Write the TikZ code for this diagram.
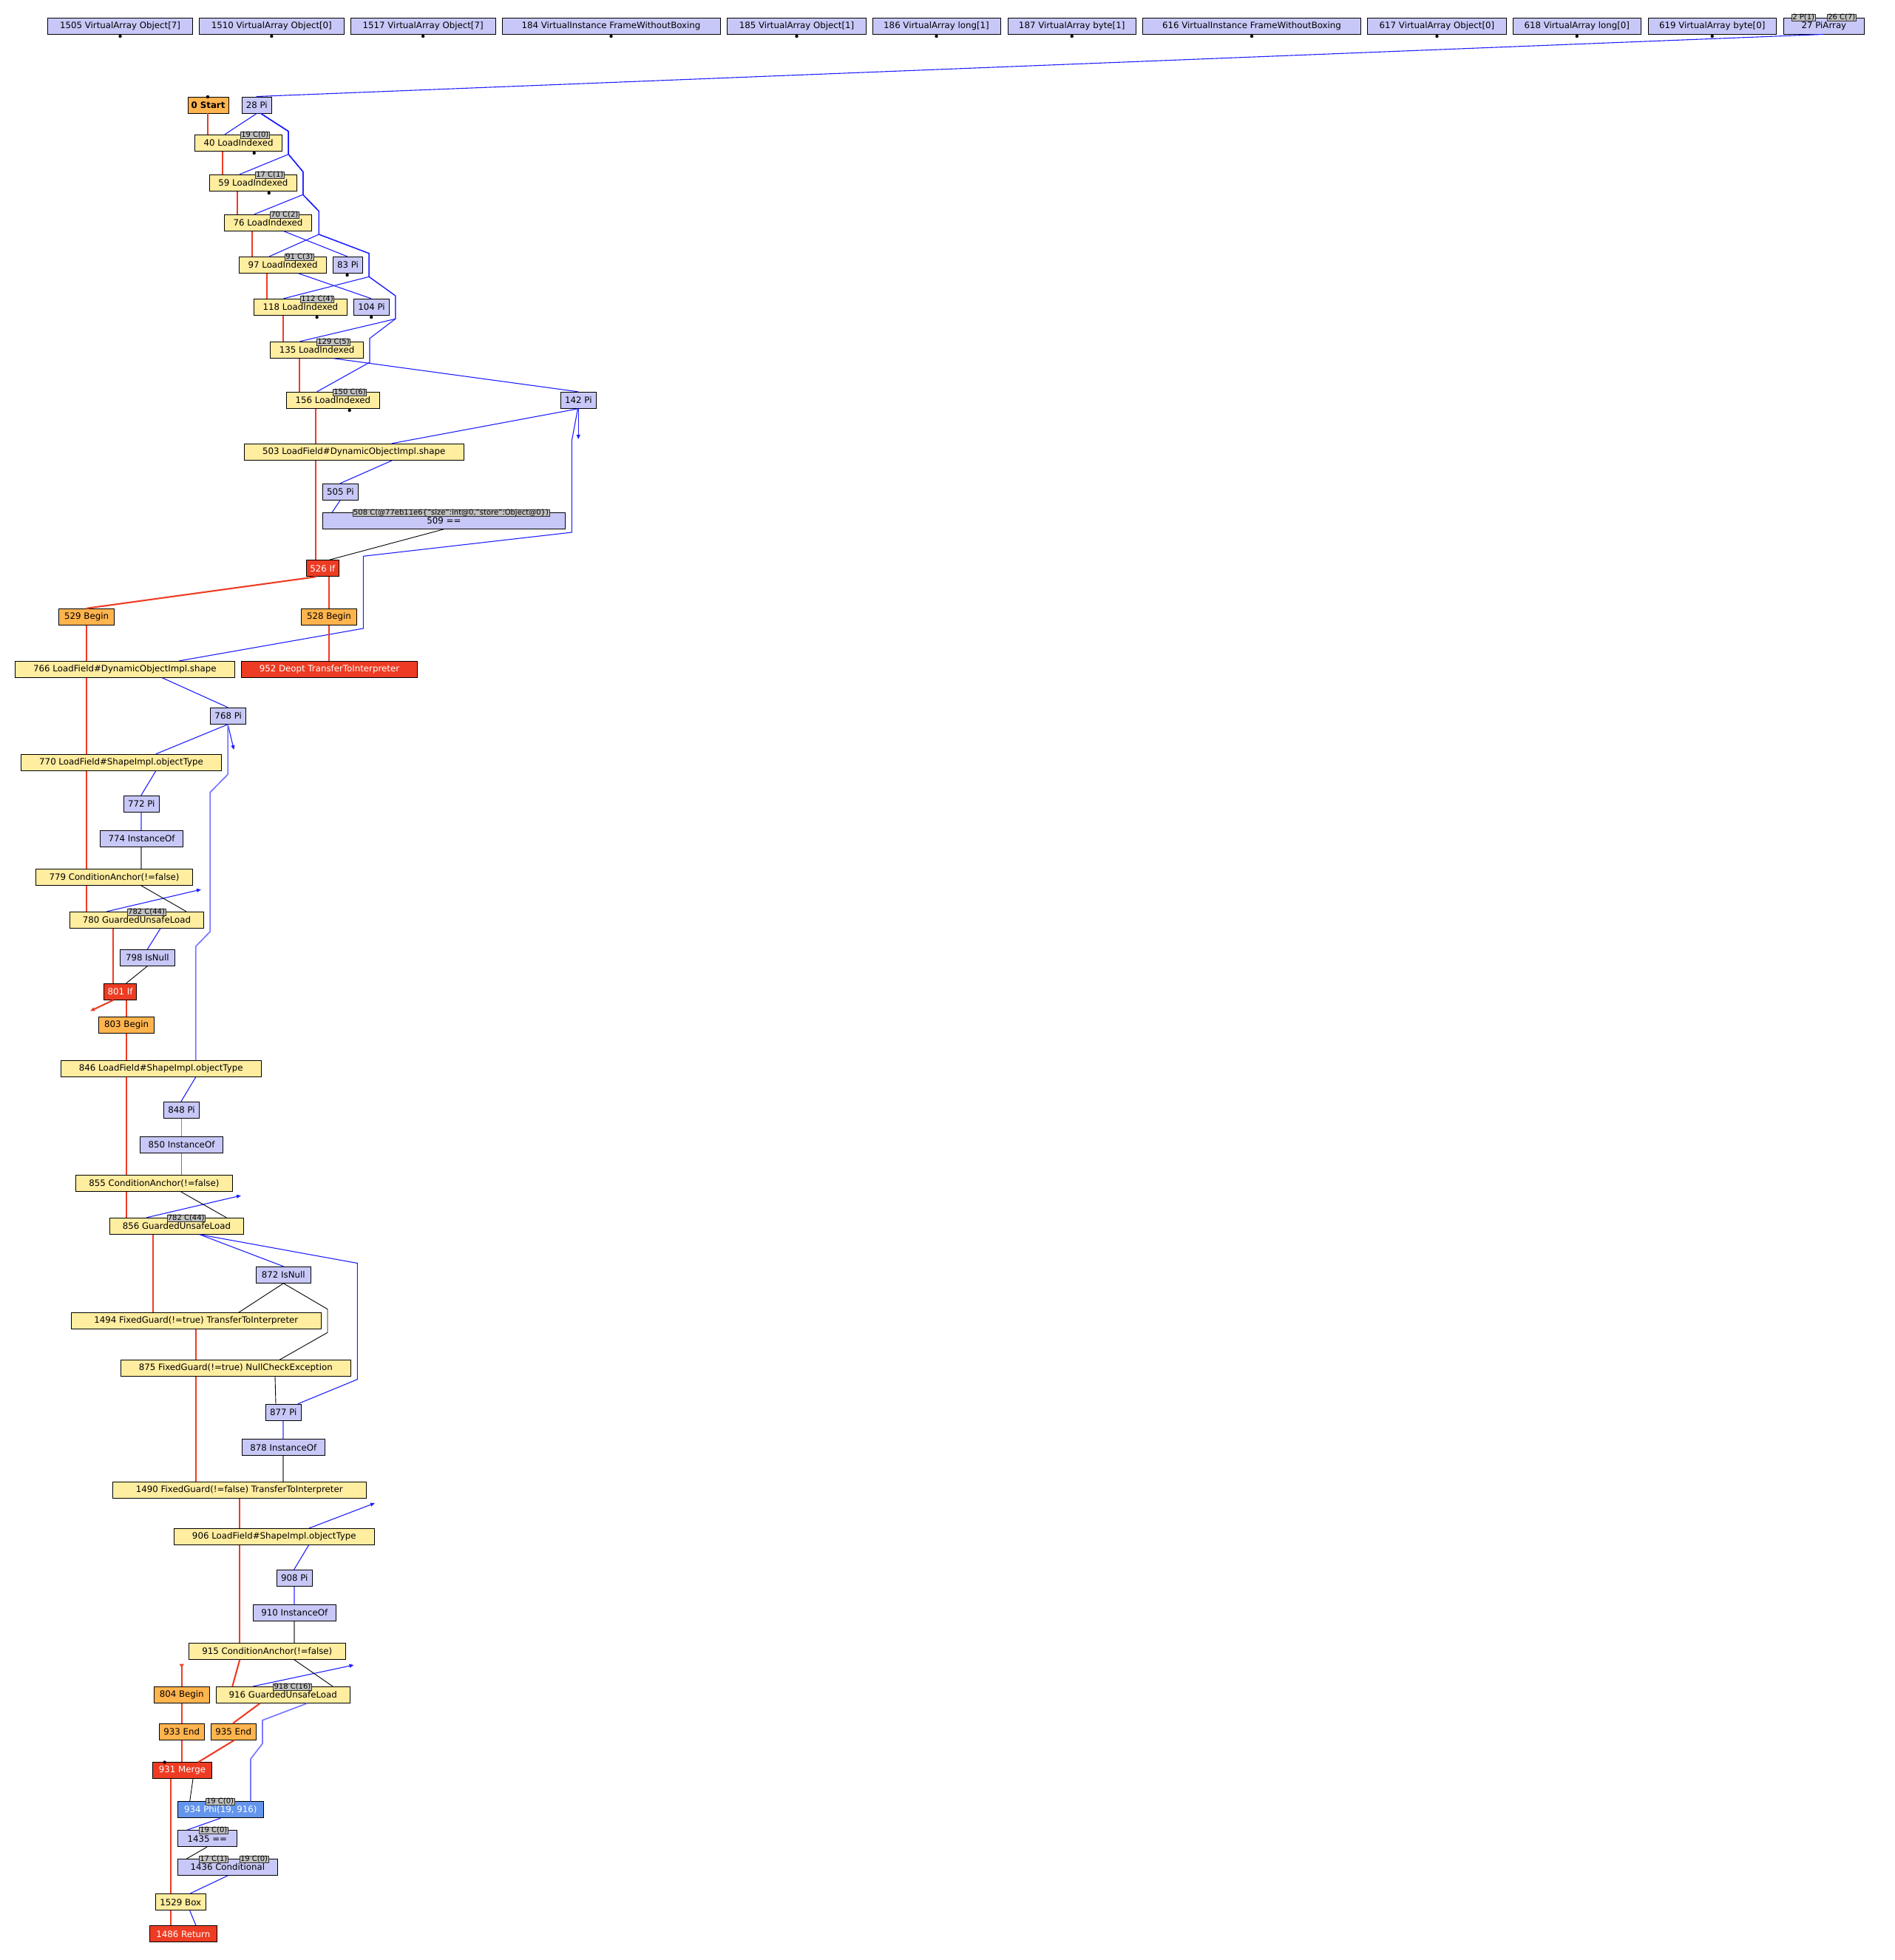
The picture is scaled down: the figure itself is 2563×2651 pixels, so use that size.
\documentclass[tikz,border=0pt]{standalone}
\usepackage{fontspec}
\setmainfont{DejaVu Sans}
\usetikzlibrary{arrows.meta}
\definecolor{yfill}{RGB}{255,237,160}
\definecolor{lfill}{RGB}{200,200,248}
\definecolor{ofill}{RGB}{255,180,77}
\definecolor{rfill}{RGB}{237,60,35}
\definecolor{pfill}{RGB}{100,149,237}
\definecolor{dblue}{RGB}{30,30,255}
\definecolor{lblue}{RGB}{120,120,255}
\definecolor{cred}{RGB}{237,60,35}
\definecolor{cgray}{RGB}{120,120,120}
\definecolor{lgray}{RGB}{192,192,192}
\newcommand\gnode[7]{\node[#6, minimum width={#4-#2}, minimum height={#5-#3}] (#1) at ({(#2+#4)/2},{(#3+#5)/2}) {#7};}
\tikzset{
 gbox/.style={draw=black, line width=0.9pt, inner sep=0pt, font=\fontsize{11.8}{13}\selectfont, text=black},
 ybox/.style={gbox, fill=yfill},
 lbox/.style={gbox, fill=lfill},
 obox/.style={gbox, fill=ofill},
 rbox/.style={gbox, fill=rfill, text=white},
 pbox/.style={gbox, fill=pfill, text=white},
 lbl/.style={draw=black!80, line width=0.6pt, fill=lgray, anchor=west, inner xsep=1pt, inner ysep=0pt, text height=7pt, text depth=1.5pt, font=\fontsize{10}{10}\selectfont, text=black},
 dat/.style={draw=dblue, line width=1.1pt},
 dat2/.style={draw=lblue, line width=1.7pt},
 ctl/.style={draw=cred, line width=2.1pt},
 blk/.style={draw=black, line width=0.9pt},
 gry/.style={draw=cgray, line width=1.7pt},
 tipb/.style={-{Triangle[length=6pt,width=5pt]}},
 tipr/.style={-{Triangle[reversed,length=5pt,width=6pt]}},
 port/.style={fill=black},
}
\begin{document}
\begin{tikzpicture}[x=1pt,y=-1pt]
\useasboundingbox (0,0) rectangle (2563,2651);
% ---- top row ----
\gnode{t1505}{64.7}{24}{260.4}{46}{lbox}{1505 VirtualArray Object[7]}
\gnode{t1510}{269.5}{24}{465.2}{46}{lbox}{1510 VirtualArray Object[0]}
\gnode{t1517}{474.3}{24}{670}{46}{lbox}{1517 VirtualArray Object[7]}
\gnode{t184}{679}{24}{974}{46}{lbox}{184 VirtualInstance FrameWithoutBoxing}
\gnode{t185}{983.4}{24}{1171.6}{46}{lbox}{185 VirtualArray Object[1]}
\gnode{t186}{1180}{24}{1353}{46}{lbox}{186 VirtualArray long[1]}
\gnode{t187}{1363}{24}{1536.4}{46}{lbox}{187 VirtualArray byte[1]}
\gnode{t616}{1545.6}{24}{1840.4}{46}{lbox}{616 VirtualInstance FrameWithoutBoxing}
\gnode{t617}{1849.6}{24}{2037.3}{46}{lbox}{617 VirtualArray Object[0]}
\gnode{t618}{2046.5}{24}{2219}{46}{lbox}{618 VirtualArray long[0]}
\gnode{t619}{2229}{24}{2402.4}{46}{lbox}{619 VirtualArray byte[0]}
\gnode{t27}{2412.4}{24}{2521.3}{46}{lbox}{27 PiArray}
\foreach \x in {162.55,367.35,572.15,826.5,1077.5,1266.5,1449.7,1693,1943.45,2132.75,2315.7}
  \fill[port] (\x,49) circle[radius=2.2pt];
\node[lbl] (lp2) at (2423,24) {2 P(1)};
\node[lbl] (lc26) at (2471,24) {26 C(7)};
% ---- nodes ----
\gnode{n0}{254}{131}{309}{153}{obox}{\bfseries 0 Start}
\gnode{n28}{327.2}{131}{367.4}{153}{lbox}{28 Pi}
\gnode{n40}{263.4}{182.3}{381.7}{204.3}{ybox}{40 LoadIndexed}
\gnode{n59}{283.5}{236.3}{401.3}{258.3}{ybox}{59 LoadIndexed}
\gnode{n76}{303.6}{290.3}{421.4}{312.3}{ybox}{76 LoadIndexed}
\gnode{n97}{323.7}{347.3}{441.5}{369.3}{ybox}{97 LoadIndexed}
\gnode{n83}{450.4}{347.3}{490.6}{369.3}{lbox}{83 Pi}
\gnode{n118}{343.3}{404.3}{469.6}{426.3}{ybox}{118 LoadIndexed}
\gnode{n104}{478.6}{404.3}{526.3}{426.3}{lbox}{104 Pi}
\gnode{n135}{365.6}{462.3}{491.5}{484.3}{ybox}{135 LoadIndexed}
\gnode{n156}{387.5}{530.3}{513.4}{552.3}{ybox}{156 LoadIndexed}
\gnode{n142}{758.5}{530.3}{806.3}{552.3}{lbox}{142 Pi}
\gnode{n503}{330.2}{600.3}{627.2}{622.3}{ybox}{503 LoadField\#DynamicObjectImpl.shape}
\gnode{n505}{436.2}{654.3}{484.5}{676.3}{lbox}{505 Pi}
\gnode{n509}{436.2}{693.3}{764.6}{715.3}{lbox}{509 ==}
\gnode{n526}{414.4}{757.7}{458.4}{779.7}{rbox}{526 If}
\gnode{n529}{79.6}{823.3}{154.6}{845.3}{obox}{529 Begin}
\gnode{n528}{407.6}{823.3}{482.4}{845.3}{obox}{528 Begin}
\gnode{n766}{20.4}{894.3}{317.3}{916.3}{ybox}{766 LoadField\#DynamicObjectImpl.shape}
\gnode{n952}{326.5}{894.3}{564.4}{916.3}{rbox}{952 Deopt TransferToInterpreter}
\gnode{n768}{284.7}{957.3}{332.7}{979.3}{lbox}{768 Pi}
\gnode{n770}{28.6}{1020.3}{299.5}{1042.3}{ybox}{770 LoadField\#ShapeImpl.objectType}
\gnode{n772}{167.3}{1076.3}{215.3}{1098.3}{lbox}{772 Pi}
\gnode{n774}{135.7}{1123.3}{247.4}{1145.3}{lbox}{774 InstanceOf}
\gnode{n779}{48.4}{1175.3}{260.7}{1197.3}{ybox}{779 ConditionAnchor(!=false)}
\gnode{n780}{94.4}{1233.3}{275.5}{1255.3}{ybox}{780 GuardedUnsafeLoad}
\gnode{n798}{162.3}{1284.3}{236.5}{1306.3}{lbox}{798 IsNull}
\gnode{n801}{140.5}{1330.3}{184.5}{1352.3}{rbox}{801 If}
\gnode{n803}{133.6}{1375.3}{208.6}{1397.3}{obox}{803 Begin}
\gnode{n846}{82.3}{1434.3}{353.2}{1456.3}{ybox}{846 LoadField\#ShapeImpl.objectType}
\gnode{n848}{221.6}{1490.3}{269.4}{1512.3}{lbox}{848 Pi}
\gnode{n850}{189.4}{1537.3}{301.6}{1559.3}{lbox}{850 InstanceOf}
\gnode{n855}{102.4}{1589.5}{314.3}{1611.5}{ybox}{855 ConditionAnchor(!=false)}
\gnode{n856}{148.4}{1647.3}{329.4}{1669.3}{ybox}{856 GuardedUnsafeLoad}
\gnode{n872}{346.3}{1713.3}{420.3}{1735.3}{lbox}{872 IsNull}
\gnode{n1494}{96.4}{1775.7}{434.3}{1797.7}{ybox}{1494 FixedGuard(!=true) TransferToInterpreter}
\gnode{n875}{163.3}{1839.5}{474.3}{1861.5}{ybox}{875 FixedGuard(!=true) NullCheckException}
\gnode{n877}{359.3}{1899.3}{407.3}{1921.3}{lbox}{877 Pi}
\gnode{n878}{327.3}{1946.7}{439.3}{1968.7}{lbox}{878 InstanceOf}
\gnode{n1490}{152.3}{2004.5}{495.3}{2026.5}{ybox}{1490 FixedGuard(!=false) TransferToInterpreter}
\gnode{n906}{235.3}{2067.5}{506.3}{2089.5}{ybox}{906 LoadField\#ShapeImpl.objectType}
\gnode{n908}{374.3}{2123.3}{422.3}{2145.3}{lbox}{908 Pi}
\gnode{n910}{342.3}{2170.3}{454.3}{2192.3}{lbox}{910 InstanceOf}
\gnode{n915}{255.3}{2222.3}{467.3}{2244.3}{ybox}{915 ConditionAnchor(!=false)}
\gnode{n804}{208.3}{2281.3}{283.3}{2303.3}{obox}{804 Begin}
\gnode{n916}{292.3}{2281.3}{473.3}{2303.3}{ybox}{916 GuardedUnsafeLoad}
\gnode{n933}{215.3}{2331.3}{276.3}{2353.3}{obox}{933 End}
\gnode{n935}{285.3}{2331.3}{346.3}{2353.3}{obox}{935 End}
\gnode{n931}{206.7}{2383.7}{286.3}{2405.7}{rbox}{931 Merge}
\gnode{n934}{240.3}{2436.7}{356.3}{2458.7}{pbox}{934 Phi(19, 916)}
\gnode{n1435}{240.3}{2475.7}{320.3}{2497.7}{lbox}{1435 ==}
\gnode{n1436}{240.3}{2514.3}{375.3}{2536.3}{lbox}{1436 Conditional}
\gnode{n1529}{210.3}{2561.7}{278.3}{2583.7}{ybox}{1529 Box}
\gnode{n1486}{202.3}{2604.7}{293.3}{2626.7}{rbox}{1486 Return}
% ---- ports ----
\fill[port] (281,131) circle[radius=2.2pt];
\fill[port] (343.75,207) circle[radius=2.2pt];
\fill[port] (363.8,261) circle[radius=2.2pt];
\fill[port] (469.6,372) circle[radius=2.2pt];
\fill[port] (428.6,429) circle[radius=2.2pt];
\fill[port] (502.2,429) circle[radius=2.2pt];
\fill[port] (472.7,555) circle[radius=2.2pt];
\fill[port] (222.7,2383.5) circle[radius=2.2pt];
% ---- bend points ----
\coordinate (b1) at (390.2,177.7);
\coordinate (b2) at (390.2,208.7);
\coordinate (b3) at (409.8,232.3);
\coordinate (b4) at (409.8,263.3);
\coordinate (b5) at (431.3,285.7);
\coordinate (b6) at (431.3,317);
\coordinate (b7) at (499.1,342.7);
\coordinate (b8) at (499.1,374.3);
\coordinate (b9) at (534.8,400);
\coordinate (b10) at (534.8,431.3);
\coordinate (b11) at (500,457.7);
\coordinate (b12) at (500,490);
% ---- data edges ----
\draw[dat] (t27.south-|2466,0) -- (n28.north-|346.6,0);
\draw[dat] (n28.south-|347.3,0) -- (n40.north-|304,0);
\draw[dat] (n28.south-|352.7,0) -- (b1) -- (b2) -- (n59.north-|324.1,0);
\draw[dat] (n28.south-|352.7,0) -- (b1) -- (b2) -- (b3) -- (b4) -- (n76.north-|343.75,0);
\draw[dat] (n28.south-|352.7,0) -- (b1) -- (b2) -- (b3) -- (b4) -- (b5) -- (b6) -- (n97.north-|364.3,0);
\draw[dat] (n28.south-|352.7,0) -- (b1) -- (b2) -- (b3) -- (b4) -- (b5) -- (b6) -- (b7) -- (b8) -- (n118.north-|383.5,0);
\draw[dat] (n28.south-|352.7,0) -- (b1) -- (b2) -- (b3) -- (b4) -- (b5) -- (b6) -- (b7) -- (b8) -- (b9) -- (b10) -- (n135.north-|405.4,0);
\draw[dat] (n28.south-|352.7,0) -- (b1) -- (b2) -- (b3) -- (b4) -- (b5) -- (b6) -- (b7) -- (b8) -- (b9) -- (b10) -- (b11) -- (b12) -- (n156.north-|428.6,0);
\draw[dat] (n76.south-|383.9,0) -- (n83.north-|469.6,0);
\draw[dat] (n97.south-|403.6,0) -- (n104.north-|502.2,0);
\draw[dat] (n135.south-|450.9,0) -- (n142.north-|782.1,0);
\draw[dat] (n142.south-|782.2,0) -- (n503.north-|529.6,0);
\coordinate (a142) at (782.2,594);
\draw[dat,tipb] (n142.south-|782.2,0) -- (a142);
\draw[dat] (n142.south-|781.5,0) -- (773.4,595.7) -- (773.4,720) -- (491.4,752.3) -- (491.4,850) -- (n766.north-|242.3,0);
\draw[dat] (n503.south-|530.4,0) -- (n505.north-|460,0);
\draw[dat] (n505.south-|460,0) -- (n509.north-|449.3,0);
\draw[dat] (n766.south-|219.4,0) -- (n768.north-|308.2,0);
\draw[dat] (n768.south-|308.2,0) -- (n770.north-|210.7,0);
\coordinate (a768) at (316.3,1014);
\draw[dat,tipb] (n768.south-|308.2,0) -- (a768);
\draw[dat2] (n768.south-|308.2,0) -- (308.2,1047.3) -- (284.2,1071.7) -- (284.2,1260) -- (264.8,1280) -- (n846.north-|264.8,0);
\draw[dat] (n770.south-|210.7,0) -- (n772.north-|190.8,0);
\draw[dat2] (n772.south-|191.3,0) -- (n774.north-|191.3,0);
\coordinate (a780) at (272,1203);
\draw[dat,tipb] (n780.north-|144.4,0) -- (a780);
\draw[dat] (n780.south-|217,0) -- (n798.north-|199.4,0);
\draw[dat] (n846.south-|264.8,0) -- (n848.north-|244.9,0);
\draw[dat2] (n848.south-|245.5,0) -- (n850.north-|245.5,0);
\coordinate (a856) at (326,1617);
\draw[dat,tipb] (n856.north-|198.2,0) -- (a856);
\draw[dat] (n856.south-|270.1,0) -- (n872.north-|383.4,0);
\draw[dat] (n856.south-|270.1,0) -- (483.3,1708.5) -- (483.3,1865.7) -- (n877.north-|402.7,0);
\draw[dat2] (n877.south-|383.3,0) -- (n878.north-|383.3,0);
\coordinate (a906) at (507,2033);
\draw[dat,tipb] (n906.north-|417.7,0) -- (a906);
\draw[dat] (n906.south-|417.5,0) -- (n908.north-|397.7,0);
\draw[dat2] (n908.south-|398.3,0) -- (n910.north-|398.3,0);
\coordinate (a916) at (478.5,2252);
\draw[dat,tipb] (n916.north-|342.3,0) -- (a916);
\draw[dat2] (n916.south-|415.5,0) -- (355,2326.7) -- (355,2358.3) -- (339,2379) -- (n934.north-|339,0);
\draw[dat] (n934.south-|298.3,0) -- (n1435.north-|252.7,0);
\draw[dat] (n1436.south-|308.3,0) -- (n1529.north-|256.7,0);
\draw[dat] (n1529.south-|256.7,0) -- (n1486.north-|265,0);
% ---- control edges ----
\draw[ctl] (n0.south-|281,0) -- (n40.north-|281,0);
\draw[ctl] (n40.south-|300.9,0) -- (n59.north-|300.9,0);
\draw[ctl] (n59.south-|321,0) -- (n76.north-|321,0);
\draw[ctl] (n76.south-|341,0) -- (n97.north-|341,0);
\draw[ctl] (n97.south-|361.2,0) -- (n118.north-|361.2,0);
\draw[ctl] (n118.south-|383,0) -- (n135.north-|383,0);
\draw[ctl] (n135.south-|404.9,0) -- (n156.north-|404.9,0);
\draw[ctl] (n156.south-|426.7,0) -- (n503.north-|426.7,0);
\draw[ctl] (n503.south-|426.7,0) -- (n526.north-|426.7,0);
\draw[ctl] (n526.south-|427.4,0) -- (n529.north-|116.8,0);
\draw[ctl] (n526.south-|445,0) -- (n528.north-|445,0);
\draw[ctl] (n528.south-|445,0) -- (n952.north-|445,0);
\draw[ctl] (n529.south-|116.8,0) -- (n766.north-|116.8,0);
\draw[ctl] (n766.south-|116.8,0) -- (n770.north-|116.8,0);
\draw[ctl] (n770.south-|116.8,0) -- (n779.north-|116.8,0);
\draw[ctl] (n779.south-|116.8,0) -- (n780.north-|116.8,0);
\draw[ctl] (n780.south-|153.1,0) -- (n801.north-|153.1,0);
\coordinate (a801) at (122,1367.5);
\draw[ctl,tipb] (n801.south-|153.1,0) -- (a801);
\draw[ctl] (n801.south-|170.7,0) -- (n803.north-|170.7,0);
\draw[ctl] (n803.south-|170.7,0) -- (n846.north-|170.7,0);
\draw[ctl] (n846.south-|170.7,0) -- (n855.north-|170.7,0);
\draw[ctl] (n855.south-|170.8,0) -- (n856.north-|170.8,0);
\draw[ctl] (n856.south-|207,0) -- (n1494.north-|207,0);
\draw[ctl] (n1494.south-|265,0) -- (n875.north-|265,0);
\draw[ctl] (n875.south-|265,0) -- (n1490.north-|265,0);
\draw[ctl] (n1490.south-|323.8,0) -- (n906.north-|323.8,0);
\draw[ctl] (n906.south-|323.8,0) -- (n915.north-|323.8,0);
\draw[ctl] (n915.south-|324.3,0) -- (n916.north-|314.3,0);
\coordinate (a804) at (245.7,2250.5);
\draw[ctl,tipr] (n804.north-|245.7,0) -- (a804);
\draw[ctl] (n804.south-|245.7,0) -- (n933.north-|245.7,0);
\draw[ctl] (n916.south-|351.7,0) -- (n935.north-|315,0);
\draw[ctl] (n933.south-|246,0) -- (n931.north-|246,0);
\draw[ctl] (n935.south-|316.7,0) -- (n931.north-|268.3,0);
\draw[ctl] (n931.south-|231,0) -- (n1529.north-|231,0);
\draw[ctl] (n1529.south-|231,0) -- (n1486.north-|231,0);
% ---- black / gray edges ----
\draw[blk] (n509.south-|600.4,0) -- (n526.north-|445.4,0);
\draw[blk] (n779.south-|190.8,0) -- (n780.north-|252,0);
\draw[blk] (n798.south-|199.4,0) -- (n801.north-|170.7,0);
\draw[blk] (n855.south-|244.8,0) -- (n856.north-|306.2,0);
\draw[blk] (n872.south-|383.4,0) -- (n1494.north-|322.7,0);
\draw[blk] (n872.south-|383.4,0) -- (443,1770.7) -- (443,1802.3) -- (n875.north-|378.3,0);
\draw[blk] (n875.south-|372,0) -- (n877.north-|373,0);
\draw[blk] (n915.south-|397.7,0) -- (n916.north-|450,0);
\draw[blk] (n931.south-|261,0) -- (n934.north-|256.7,0);
\draw[blk] (n1435.south-|280,0) -- (n1436.north-|252.7,0);
\draw[gry] (n774.south-|191.3,0) -- (n779.north-|191.3,0);
\draw[gry] (n850.south-|245.5,0) -- (n855.north-|245.5,0);
\draw[gry] (n878.south-|383.3,0) -- (n1490.north-|383.3,0);
\draw[gry] (n910.south-|398.3,0) -- (n915.north-|398.3,0);
% ---- labels ----
\node[lbl] (l40) at (325,183) {19 C(0)};
\node[lbl] (l59) at (345,237) {17 C(1)};
\node[lbl] (l76) at (365,291) {70 C(2)};
\node[lbl] (l97) at (385,348) {91 C(3)};
\node[lbl] (l118) at (406,405) {112 C(4)};
\node[lbl] (l135) at (428,463) {129 C(5)};
\node[lbl] (l156) at (450,531) {150 C(6)};
\node[lbl] (l509) at (476.8,694) {508 C(@77eb11e6\{"size":int@0,"store":Object@0\})};
\node[lbl] (l780) at (171.9,1234) {782 C(44)};
\node[lbl] (l856) at (225.5,1648) {782 C(44)};
\node[lbl] (l916) at (369.3,2282) {918 C(16)};
\node[lbl] (l934) at (277.7,2437) {19 C(0)};
\node[lbl] (l1435) at (269,2476) {19 C(0)};
\node[lbl] (l1436a) at (269,2514.7) {17 C(1)};
\node[lbl] (l1436b) at (323.7,2514.7) {19 C(0)};
\end{tikzpicture}
\end{document}
